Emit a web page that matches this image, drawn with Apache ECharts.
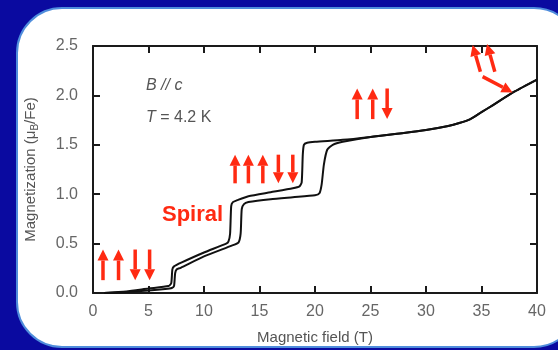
<!DOCTYPE html>
<html>
<head>
<meta charset="utf-8">
<script src="https://cdn.jsdelivr.net/npm/echarts@6/dist/echarts.min.js"></script>
<style>
  html, body { margin: 0; padding: 0; background: #0a0aa0; }
  #chart { width: 558px; height: 350px; }
</style>
</head>
<body>
<div id="chart"></div>
<script>
// field sweep up (T) and magnetization (muB/Fe)
const upField = [1, 3, 5, 6.5, 7.1, 7.3, 7.4, 7.55, 7.9, 10, 12.5, 13.1, 13.3, 13.4, 13.6, 14, 16, 18, 20, 20.4, 20.6, 20.8, 21.1, 21.6, 22.5, 25, 28, 30, 32, 33, 34, 35, 36, 38, 40];
const upMag = [0, 0.01, 0.025, 0.04, 0.05, 0.07, 0.2, 0.24, 0.255, 0.37, 0.48, 0.51, 0.6, 0.85, 0.9, 0.92, 0.95, 0.97, 0.99, 1.01, 1.1, 1.3, 1.45, 1.5, 1.53, 1.58, 1.62, 1.65, 1.69, 1.72, 1.76, 1.83, 1.9, 2.04, 2.16];

// field sweep down
const downField = [40, 38, 36, 35, 34, 33, 32, 30, 28, 25, 22.5, 20, 19.3, 19.0, 18.9, 18.8, 18.6, 18, 16, 14, 13, 12.6, 12.45, 12.35, 12.2, 12, 10, 8, 7.3, 7.15, 7.05, 6.8, 5, 3, 1];
const downMag = [2.16, 2.04, 1.9, 1.83, 1.76, 1.72, 1.69, 1.65, 1.62, 1.58, 1.55, 1.53, 1.52, 1.5, 1.4, 1.12, 1.08, 1.06, 1.02, 0.98, 0.94, 0.92, 0.88, 0.6, 0.52, 0.5, 0.41, 0.31, 0.27, 0.24, 0.1, 0.07, 0.045, 0.015, 0];

const xTicks = [0, 5, 10, 15, 20, 25, 30, 35, 40];
const yTicks = ['0.0', '0.5', '1.0', '1.5', '2.0', '2.5'];

// spin arrows: [x1, y1, x2, y2] in data units, head at the second point
const spinArrows = [
  [0.9, 0.13, 0.9, 0.44],
  [2.3, 0.13, 2.3, 0.44],
  [3.8, 0.44, 3.8, 0.13],
  [5.1, 0.44, 5.1, 0.13],
  [12.8, 1.11, 12.8, 1.40],
  [14.0, 1.11, 14.0, 1.40],
  [15.3, 1.11, 15.3, 1.40],
  [16.7, 1.40, 16.7, 1.11],
  [18.0, 1.40, 18.0, 1.11],
  [23.8, 1.76, 23.8, 2.07],
  [25.2, 1.76, 25.2, 2.07],
  [26.5, 2.07, 26.5, 1.76],
  [34.9, 2.24, 34.2, 2.51],
  [36.2, 2.24, 35.5, 2.52],
  [35.1, 2.19, 37.8, 2.03]
];

const FONT = '"Liberation Sans", Arial, sans-serif';
const RED = '#ff2a12';

const chart = echarts.init(document.getElementById('chart'));

const axisLine = { onZero: false, lineStyle: { color: '#1a1a1a', width: 2 } };
const axisTick = { inside: true, length: 7, lineStyle: { color: '#1a1a1a', width: 2 } };

function arrowItem(params, api) {
  const p1 = api.coord([api.value(0), api.value(1)]);
  const p2 = api.coord([api.value(2), api.value(3)]);
  const dx = p2[0] - p1[0];
  const dy = p2[1] - p1[1];
  const len = Math.sqrt(dx * dx + dy * dy);
  const ux = dx / len, uy = dy / len;
  const headLen = 11, headW = 5.5;
  const bx = p2[0] - ux * headLen, by = p2[1] - uy * headLen;
  return {
    type: 'group',
    children: [
      {
        type: 'line',
        shape: { x1: p1[0], y1: p1[1], x2: bx, y2: by },
        style: { stroke: RED, lineWidth: 3.5 }
      },
      {
        type: 'polygon',
        shape: {
          points: [
            [p2[0], p2[1]],
            [bx - uy * headW, by + ux * headW],
            [bx + uy * headW, by - ux * headW]
          ]
        },
        style: { fill: RED }
      }
    ]
  };
}

chart.setOption({
  animation: false,
  textStyle: { fontFamily: FONT },
  graphic: [
    {
      type: 'rect',
      z: -10,
      silent: true,
      shape: { x: 17, y: 8, width: 562, height: 339, r: 45 },
      style: { fill: '#ffffff', stroke: '#4f8ddc', lineWidth: 2 }
    },
    {
      type: 'text',
      left: 146, top: 78,
      style: { text: 'B // c', font: 'italic 16px ' + FONT, fill: '#555' }
    },
    {
      type: 'text',
      left: 146, top: 110,
      style: {
        text: '{i|T} = 4.2 K',
        font: '16px ' + FONT, fill: '#555',
        rich: { i: { fontStyle: 'italic', fontSize: 16, color: '#555', fontFamily: FONT } }
      }
    },
    {
      type: 'text',
      left: 162, top: 204,
      style: { text: 'Spiral', font: 'bold 22px ' + FONT, fill: RED }
    }
  ],
  grid: { left: 93, right: 21, top: 46, bottom: 54, containLabel: false },
  xAxis: [
    {
      type: 'value', min: 0, max: 40, interval: 5, position: 'bottom',
      name: 'Magnetic field (T)', nameLocation: 'middle', nameGap: 37,
      nameTextStyle: { color: '#555', fontSize: 15 },
      axisLine, axisTick,
      axisLabel: { color: '#666', fontSize: 16, margin: 11, formatter: (v) => String(xTicks[xTicks.indexOf(v)]) },
      splitLine: { show: false }
    },
    {
      type: 'value', min: 0, max: 40, interval: 5, position: 'top',
      axisLine, axisTick, axisLabel: { show: false }, splitLine: { show: false }
    }
  ],
  yAxis: [
    {
      type: 'value', min: 0, max: 2.5, interval: 0.5, position: 'left',
      name: 'Magnetization (μ{sub|B}/Fe)', nameLocation: 'middle', nameGap: 53,
      nameTextStyle: {
        color: '#555', fontSize: 15,
        rich: { sub: { fontSize: 10, color: '#555', padding: [8, 0, 0, 0] } }
      },
      axisLine, axisTick,
      axisLabel: { color: '#666', fontSize: 16, margin: 15, formatter: (v) => yTicks[Math.round(v / 0.5)] },
      splitLine: { show: false }
    },
    {
      type: 'value', min: 0, max: 2.5, interval: 0.5, position: 'right',
      axisLine, axisTick, axisLabel: { show: false }, splitLine: { show: false }
    }
  ],
  series: [
    {
      name: 'up sweep',
      type: 'line',
      symbol: 'none',
      smooth: 0.2,
      lineStyle: { color: '#111', width: 2 },
      data: upField.map((f, i) => [f, upMag[i]]),
      z: 3
    },
    {
      name: 'down sweep',
      type: 'line',
      symbol: 'none',
      smooth: 0.2,
      lineStyle: { color: '#111', width: 2 },
      data: downField.map((f, i) => [f, downMag[i]]),
      z: 3
    },
    {
      name: 'spins',
      type: 'custom',
      clip: false,
      renderItem: arrowItem,
      data: spinArrows,
      z: 4
    }
  ]
});
</script>
</body>
</html>
